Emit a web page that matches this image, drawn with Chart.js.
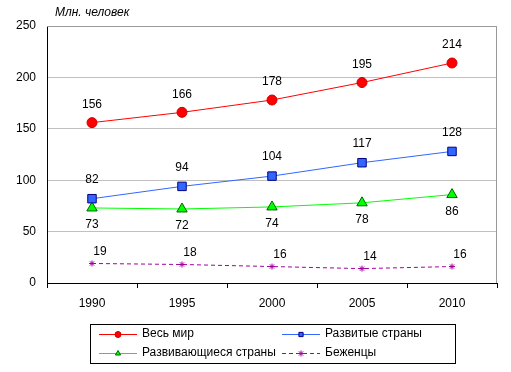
<!DOCTYPE html>
<html><head><meta charset="utf-8">
<script src="https://cdn.jsdelivr.net/npm/chart.js@4/dist/chart.umd.min.js"></script>
<style>html,body{margin:0;padding:0;background:#fff}#wrap{width:511px;height:372px;position:relative}</style>
</head><body><div id="wrap"><canvas id="c" width="511" height="372"></canvas></div>
<script>
const years = ['1990','1995','2000','2005','2010'];
const world = [156,166,178,195,214];
const developed = [82,94,104,117,128];
const developing = [73,72,74,78,86];
const refugees = [19,18,16,14,16];
const seriesNames = ['Весь мир','Развитые страны','Развивающиеся страны','Беженцы'];
const yTitle = 'Млн. человек';

const FONT = 'Liberation Sans, Arial, sans-serif';
const labelPos = [ {dx:0,dy:-18}, {dx:0,dy:-19}, {dx:0,dy:17}, {dx:8,dy:-12} ];

const labelsPlugin = {
  id:'lbl',
  afterDatasetsDraw(chart){
    const ctx = chart.ctx;
    ctx.save();
    ctx.font = '12px '+FONT;
    ctx.fillStyle = '#000';
    ctx.textAlign='center'; ctx.textBaseline='middle';
    chart.data.datasets.forEach((ds,i)=>{
      const meta = chart.getDatasetMeta(i);
      meta.data.forEach((pt,j)=>{
        ctx.fillText(String(ds.data[j]), pt.x+labelPos[i].dx, pt.y+labelPos[i].dy);
      });
    });
    ctx.restore();
  },
  afterDraw(chart){
    const ctx = chart.ctx, a = chart.chartArea;
    ctx.save();
    ctx.strokeStyle='#999'; ctx.lineWidth=1;
    ctx.beginPath();
    ctx.moveTo(a.left, a.top+0.5); ctx.lineTo(a.right-0.5, a.top+0.5); ctx.lineTo(a.right-0.5, a.bottom);
    ctx.stroke();
    ctx.font='italic 12px '+FONT; ctx.fillStyle='#000'; ctx.textAlign='left'; ctx.textBaseline='middle';
    ctx.fillText(yTitle, 55, 13);
    ctx.strokeStyle='#000'; ctx.lineWidth=1;
    ctx.strokeRect(90.5, 324.5, 365, 39);
    const pos = [[99,334],[282,334],[99,353],[282,353]];
    ctx.font='12px '+FONT; ctx.textBaseline='middle';
    chart.data.datasets.forEach((ds,i)=>{
      const [x,y]=pos[i];
      ctx.save();
      ctx.strokeStyle=ds.borderColor; ctx.lineWidth=ds.borderWidth;
      ctx.setLineDash(ds.borderDash||[]);
      ctx.beginPath(); ctx.moveTo(x,y+0.5); ctx.lineTo(x+38,y+0.5); ctx.stroke();
      ctx.setLineDash([]);
      ctx.fillStyle=ds.pointBackgroundColor; ctx.strokeStyle=ds.pointBorderColor; ctx.lineWidth=1;
      Chart.helpers.drawPoint(ctx,{pointStyle:ds.pointStyle,radius:3,borderWidth:1,rotation:0},x+19,y+0.5);
      ctx.restore();
      ctx.fillStyle='#000'; ctx.textAlign='left';
      ctx.fillText(seriesNames[i], x+43, y);
    });
    ctx.restore();
  }
};

new Chart(document.getElementById('c'),{
  type:'line',
  data:{labels:years,datasets:[
    {label:seriesNames[0],data:world,borderColor:'#ff0000',borderWidth:1,pointStyle:'circle',pointRadius:5,pointBackgroundColor:'#ff0000',pointBorderColor:'#cc0000',pointBorderWidth:1},
    {label:seriesNames[1],data:developed,borderColor:'#3366ff',borderWidth:1,pointStyle:'rect',pointRadius:6,pointBackgroundColor:'#3366ff',pointBorderColor:'#000080',pointBorderWidth:1},
    {label:seriesNames[2],data:developing,borderColor:'#00ff00',borderWidth:1,pointStyle:'triangle',pointRadius:6,pointBackgroundColor:'#00ff00',pointBorderColor:'#006600',pointBorderWidth:1},
    {label:seriesNames[3],data:refugees,borderColor:'#a000a0',borderWidth:1,borderDash:[4,3],pointStyle:'star',pointRadius:3,pointBackgroundColor:'#a000a0',pointBorderColor:'#a000a0',pointBorderWidth:1}
  ]},
  options:{
    responsive:false,animation:false,
    layout:{padding:{left:0,top:26,right:14,bottom:59}},
    plugins:{legend:{display:false},tooltip:{enabled:false}},
    elements:{line:{tension:0}},
    scales:{
      x:{offset:true,
        grid:{offset:true,drawOnChartArea:false,tickLength:5,color:'#000'},
        border:{color:'#000'},
        ticks:{font:{family:FONT,size:12},color:'#000',padding:8,maxRotation:0},
        afterFit(s){s.height=30;}
      },
      y:{min:0,max:250,
        grid:{color:'#c0c0c0',drawTicks:false},
        border:{color:'#000'},
        ticks:{stepSize:50,font:{family:FONT,size:12},color:'#000',padding:11},
        afterFit(s){s.width=47;}
      }
    }
  },
  plugins:[labelsPlugin]
});
</script></body></html>
